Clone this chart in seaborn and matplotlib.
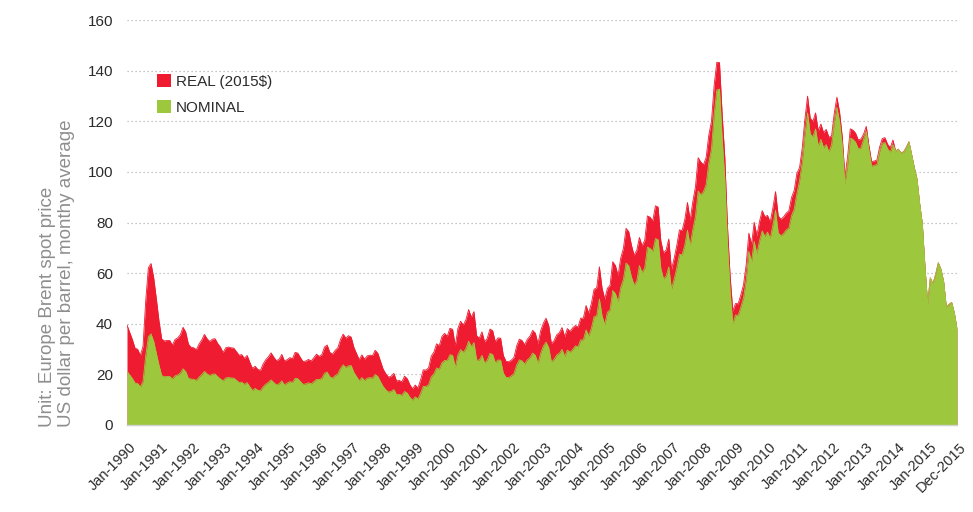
import numpy as np
import pandas as pd
import matplotlib
matplotlib.use("Agg")
import matplotlib.pyplot as plt
from matplotlib.patches import Patch
from matplotlib.transforms import ScaledTranslation
import seaborn as sns

# ---------------- data (monthly, Jan-1990 .. Dec-2015) ----------------
nominal = [
    21.25, 19.81, 18.39, 16.61, 16.35, 15.10, 17.17, 27.17, 34.90, 36.02, 33.07, 28.27,  # 1990
    23.57, 19.54, 19.08, 19.18, 19.19, 18.17, 19.40, 19.77, 20.50, 22.21, 21.11, 18.41,  # 1991
    18.16, 18.05, 17.63, 18.92, 19.89, 21.16, 20.19, 19.54, 20.08, 20.15, 19.04, 18.20,  # 1992
    17.44, 18.58, 18.75, 18.59, 18.52, 17.67, 16.83, 16.93, 16.05, 16.74, 15.13, 13.67,  # 1993
    14.48, 13.74, 13.52, 15.08, 16.12, 16.87, 17.82, 16.76, 15.87, 16.27, 17.45, 15.84,  # 1994
    16.56, 17.12, 16.82, 18.45, 18.27, 17.12, 16.05, 16.24, 16.68, 16.27, 17.11, 18.02,  # 1995
    17.97, 18.42, 20.41, 20.91, 19.03, 18.54, 19.52, 20.20, 22.37, 23.77, 22.70, 23.37,  # 1996
    23.47, 20.81, 19.16, 17.46, 18.75, 17.57, 18.49, 18.70, 18.55, 19.96, 19.15, 17.05,  # 1997
    15.15, 13.88, 13.01, 13.29, 14.03, 11.97, 12.09, 11.75, 13.24, 12.61, 10.93, 9.82,   # 1998
    11.12, 10.27, 12.51, 15.29, 15.23, 15.87, 19.08, 20.22, 22.54, 22.01, 24.58, 25.47,  # 1999
    25.51, 27.78, 27.49, 22.76, 27.74, 29.80, 28.68, 30.20, 33.14, 30.96, 32.55, 25.66,  # 2000
    25.62, 27.50, 24.50, 25.66, 28.31, 27.85, 24.61, 25.68, 25.62, 20.54, 18.80, 18.71,  # 2001
    19.42, 20.28, 23.70, 25.73, 25.35, 24.08, 25.74, 26.65, 28.40, 27.54, 24.34, 28.33,  # 2002
    31.18, 32.77, 30.61, 25.00, 25.86, 27.65, 28.35, 29.89, 27.11, 29.61, 28.75, 29.81,  # 2003
    31.28, 30.86, 33.63, 33.59, 37.57, 35.18, 38.22, 42.74, 43.20, 49.78, 43.11, 39.60,  # 2004
    44.51, 45.48, 53.10, 51.88, 48.65, 54.35, 57.52, 63.98, 62.91, 58.54, 55.24, 56.86,  # 2005
    62.99, 60.21, 62.06, 70.26, 69.78, 68.56, 73.67, 73.23, 61.96, 57.81, 58.76, 62.47,  # 2006
    53.68, 57.56, 62.05, 67.49, 67.21, 71.05, 76.93, 70.76, 77.17, 82.34, 92.41, 90.93,  # 2007
    92.18, 94.99, 103.64, 109.07, 122.80, 132.32, 132.72, 113.24, 97.23, 71.58, 52.45, 39.95,  # 2008
    43.44, 43.32, 46.54, 50.18, 57.30, 68.61, 64.44, 72.51, 67.65, 72.77, 76.66, 74.46,  # 2009
    76.17, 73.75, 78.83, 84.82, 75.95, 74.76, 75.58, 77.04, 77.84, 82.67, 85.28, 91.45,  # 2010
    96.52, 103.72, 114.64, 123.26, 114.99, 113.83, 116.97, 110.22, 112.83, 109.55, 110.77, 107.87,  # 2011
    110.69, 119.33, 125.45, 119.75, 110.34, 95.16, 102.62, 113.36, 112.86, 111.71, 109.06, 109.49,  # 2012
    112.96, 116.05, 108.47, 102.25, 102.56, 102.92, 107.93, 111.28, 111.60, 109.08, 107.79, 110.76,  # 2013
    108.12, 108.90, 107.48, 107.76, 109.54, 111.80, 106.77, 101.61, 97.09, 87.43, 79.44, 62.34,  # 2014
    47.76, 58.10, 55.89, 59.52, 64.08, 61.48, 56.56, 46.52, 47.62, 48.43, 44.27, 38.01,  # 2015
]

real = [
    39.5, 36.6, 33.8, 30.4, 29.9, 27.5, 31.1, 48.9, 62.1, 63.8, 58.2, 49.8,   # 1990
    41.0, 34.0, 33.2, 33.4, 33.4, 31.6, 33.8, 34.4, 35.7, 38.6, 36.7, 32.0,   # 1991
    30.7, 30.5, 29.8, 32.0, 33.6, 35.8, 34.1, 33.0, 33.9, 34.1, 32.2, 30.8,   # 1992
    28.6, 30.5, 30.8, 30.5, 30.4, 29.0, 27.6, 27.8, 26.3, 27.5, 24.8, 22.4,   # 1993
    23.2, 22.0, 21.6, 24.1, 25.8, 27.0, 28.5, 26.8, 25.4, 26.0, 27.9, 25.3,   # 1994
    25.8, 26.6, 26.2, 28.7, 28.4, 26.6, 25.0, 25.3, 25.9, 25.3, 26.6, 28.0,   # 1995
    27.1, 27.8, 30.8, 31.6, 28.7, 28.0, 29.5, 30.5, 33.8, 35.9, 34.3, 35.3,   # 1996
    34.7, 30.7, 28.3, 25.8, 27.7, 26.0, 27.3, 27.6, 27.4, 29.5, 28.3, 25.2,   # 1997
    22.0, 20.2, 18.9, 19.3, 20.4, 17.4, 17.6, 17.1, 19.3, 18.3, 15.9, 14.3,   # 1998
    15.8, 14.6, 17.8, 21.8, 21.7, 22.6, 27.2, 28.8, 32.1, 31.3, 35.0, 36.2,   # 1999
    35.1, 38.2, 37.8, 31.3, 38.2, 41.0, 39.5, 41.6, 45.6, 42.6, 44.8, 35.3,   # 2000
    34.3, 36.8, 32.8, 34.3, 37.9, 37.3, 32.9, 34.4, 34.3, 27.5, 25.2, 25.0,   # 2001
    25.6, 26.7, 31.2, 33.9, 33.4, 31.7, 33.9, 35.1, 37.4, 36.3, 32.1, 37.3,   # 2002
    40.2, 42.2, 39.4, 32.2, 33.3, 35.6, 36.5, 38.5, 34.9, 38.1, 37.0, 38.4,   # 2003
    39.3, 38.7, 42.2, 42.2, 47.2, 44.2, 48.0, 53.6, 54.2, 62.5, 54.1, 49.7,   # 2004
    54.0, 55.2, 64.5, 63.0, 59.1, 66.0, 69.8, 77.7, 76.4, 71.1, 67.1, 69.0,   # 2005
    74.1, 70.8, 73.0, 82.6, 82.1, 80.6, 86.6, 86.1, 72.9, 68.0, 69.1, 73.5,   # 2006
    61.4, 65.8, 70.9, 77.1, 76.8, 81.2, 87.9, 80.9, 88.2, 94.1, 105.6, 103.9,  # 2007
    102.8, 105.7, 114.5, 120.0, 134.2, 143.3, 143.2, 122.8, 105.6, 78.4, 58.5, 45.0,  # 2008
    48.0, 47.9, 51.4, 55.4, 63.3, 75.8, 71.2, 80.1, 74.8, 80.4, 84.7, 82.3,   # 2009
    82.8, 80.2, 85.7, 92.2, 82.6, 81.3, 82.2, 83.7, 84.6, 89.9, 92.7, 99.4,   # 2010
    101.7, 109.3, 120.8, 129.9, 121.2, 120.0, 123.3, 116.2, 118.9, 115.5, 116.8, 113.7,  # 2011
    114.2, 123.1, 129.5, 123.6, 113.9, 98.2, 105.9, 117.0, 116.5, 115.3, 112.6, 113.0,   # 2012
    114.9, 118.0, 110.3, 104.0, 104.3, 104.7, 109.8, 113.2, 113.5, 110.9, 109.6, 112.6,  # 2013
    108.2, 109.0, 107.6, 107.9, 109.7, 111.9, 106.9, 101.7, 97.2, 87.5, 79.5, 62.4,      # 2014
    47.76, 58.10, 55.89, 59.52, 64.08, 61.48, 56.56, 46.52, 47.62, 48.43, 44.27, 38.01,  # 2015
]

tick_labels = ["Jan-1990", "Jan-1991", "Jan-1992", "Jan-1993", "Jan-1994", "Jan-1995",
               "Jan-1996", "Jan-1997", "Jan-1998", "Jan-1999", "Jan-2000", "Jan-2001",
               "Jan-2002", "Jan-2003", "Jan-2004", "Jan-2005", "Jan-2006", "Jan-2007",
               "Jan-2008", "Jan-2009", "Jan-2010", "Jan-2011", "Jan-2012", "Jan-2013",
               "Jan-2014", "Jan-2015", "Dec-2015"]
series_names = ["REAL (2015$)", "NOMINAL"]
y_ticks = [0, 20, 40, 60, 80, 100, 120, 140, 160]
y_title = "Unit: Europe Brent spot price\nUS dollar per barrel, monthy average"

# ---------------- style ----------------
sns.set_style("white")
plt.rcParams["font.family"] = ["Liberation Sans", "DejaVu Sans"]

RED = "#EE1B31"
GREEN = "#9DC83E"
TXT = "#2b2b2b"

df = pd.DataFrame({"month": np.arange(len(nominal)), "nominal": nominal, "real": real})

fig = plt.figure(figsize=(9.73, 5.12), dpi=100)
ax = fig.add_axes([127 / 973, 1 - 425 / 512, 830 / 973, 405 / 512])

# real (red) area
sns.lineplot(data=df, x="month", y="real", ax=ax, color=RED, linewidth=0.6)
ax.fill_between(df["month"], 0, df["real"], color=RED, linewidth=0, zorder=2)
# nominal (green) area
sns.lineplot(data=df, x="month", y="nominal", ax=ax, color=GREEN, linewidth=0.6)
ax.fill_between(df["month"], 0, df["nominal"], color=GREEN, linewidth=0, zorder=3)

ax.set_xlim(0, len(nominal) - 1)
ax.set_ylim(0, 160)

# grid
ax.set_yticks(y_ticks)
ax.yaxis.grid(True, linestyle=(0, (1, 2.2)), color="#b5b5b5", linewidth=0.9)
ax.set_axisbelow(True)
for s in ["left", "right", "top"]:
    ax.spines[s].set_visible(False)
ax.spines["bottom"].set_color("#d0d0d0")
ax.spines["bottom"].set_linewidth(1.0)
ax.spines["bottom"].set_zorder(5)

ax.tick_params(axis="y", length=0, pad=10, labelsize=11, labelcolor=TXT)
xt = list(range(0, 312, 12)) + [311]
ax.set_xticks(xt)
ax.set_xticklabels(tick_labels)
ax.tick_params(axis="x", length=4, width=1, color="#d0d0d0", labelsize=10.5, labelcolor=TXT, pad=2)
offset = ScaledTranslation(7 / 100, -12 / 100, fig.dpi_scale_trans)
for lab in ax.get_xticklabels():
    lab.set_rotation(45)
    lab.set_ha("right")
    lab.set_va("center")
    lab.set_rotation_mode("anchor")
    lab.set_transform(lab.get_transform() + offset)

ax.set_xlabel("")
ax.set_ylabel("")

fig.text(0.0585, 1 - 427 / 512, y_title,
         rotation=90, ha="center", va="bottom", multialignment="left",
         fontsize=13.5, color="#8e8e8e", linespacing=1.12)

handles = [Patch(facecolor=RED, edgecolor="none"), Patch(facecolor=GREEN, edgecolor="none")]
ax.legend(handles, series_names, loc="upper left", bbox_to_anchor=(0.036, 0.867),
          frameon=False, fontsize=11, handlelength=0.95, handleheight=0.95,
          handletextpad=0.3, labelspacing=0.75, borderpad=0, borderaxespad=0,
          labelcolor=TXT)

fig.savefig("out.png", dpi=100)
